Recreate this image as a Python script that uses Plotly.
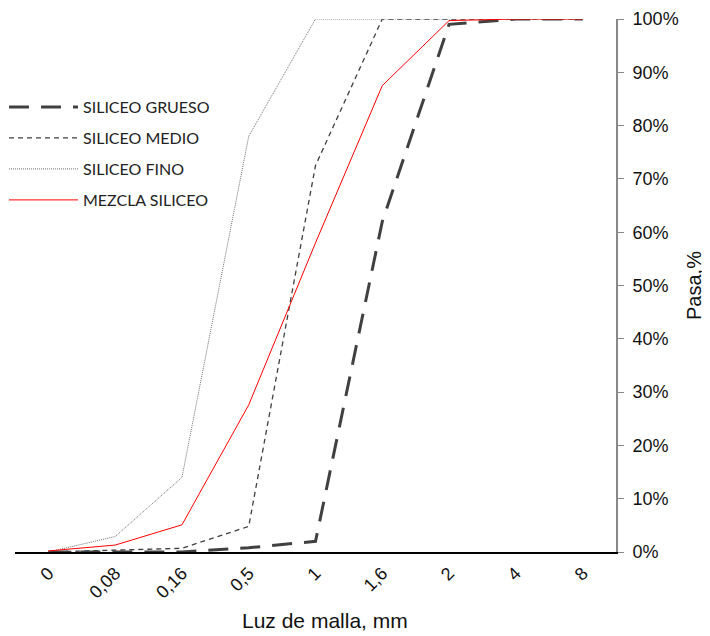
import plotly.graph_objects as go

categories = ["0", "0,08", "0,16", "0,5", "1", "1,6", "2", "4", "8"]
grueso = [0, 0, 0, 0.8, 2.0, 62, 99, 100, 100]
medio = [0, 0.4, 0.7, 4.8, 72.5, 100, 100, 100, 100]
fino = [0, 2.9, 14, 78, 100, 100, 100, 100, 100]
mezcla = [0.2, 1.3, 5.1, 27.6, 58, 87.5, 99.7, 100, 100]
names = ["SILICEO GRUESO", "SILICEO MEDIO", "SILICEO FINO", "MEZCLA SILICEO"]
y_ticks = [0, 10, 20, 30, 40, 50, 60, 70, 80, 90, 100]

series = [grueso, medio, fino, mezcla]
styles = [
    dict(color="#404040", width=3, dash="20px,12px"),
    dict(color="#404040", width=1.3, dash="5px,4px"),
    dict(color="#606060", width=0.9, dash="1px,1px"),
    dict(color="#FF0000", width=1),
]
legend_ids = ["legend", "legend2", "legend3", "legend4"]

fig = go.Figure()
for name, vals, st, lg in zip(names, series, styles, legend_ids):
    fig.add_trace(go.Scatter(x=categories, y=vals, mode="lines", name=name,
                             line=st, legend=lg))

# page body has an 8px margin; figure is 702x628 so it fills the 710x636 window
PL, PT, PR, PB = 15, 19, 616, 552  # plot area in screen pixels
legend_tops = [90, 121, 152, 183]
layout_legends = {}
for lg, top in zip(legend_ids, legend_tops):
    layout_legends[lg] = dict(
        xref="paper", yref="paper",
        x=(4 - PL) / (PR - PL), y=(PB - top) / (PB - PT),
        xanchor="left", yanchor="top",
        bgcolor="rgba(0,0,0,0)",
        font=dict(family="Lato, Open Sans, sans-serif", size=16, color="#222"),
        itemwidth=69,
    )

tick_font = dict(family="Liberation Sans, Arial, sans-serif", size=18, color="#111")
xtitle_font = dict(family="Liberation Sans, Arial, sans-serif", size=21, color="#111")
ytitle_font = dict(family="Liberation Sans, Arial, sans-serif", size=20, color="#111")

fig.update_layout(
    width=702, height=628,
    margin=dict(l=PL - 8, r=710 - PR, t=PT - 8, b=636 - PB, autoexpand=False),
    paper_bgcolor="white", plot_bgcolor="white",
    showlegend=True,
    **layout_legends,
    xaxis=dict(
        type="category", categoryorder="array", categoryarray=categories,
        range=[-0.5, 8.5], tickangle=-45, automargin=False,
        showline=True, linecolor="black", linewidth=1.5,
        showgrid=False, ticks="", ticklabelstandoff=2,
        tickfont=tick_font,
    ),
    yaxis=dict(
        side="right", range=[0, 100], tickvals=y_ticks, automargin=False,
        ticktext=[f"{v}%" for v in y_ticks],
        showline=True, linecolor="#888888", linewidth=2,
        ticks="outside", ticklen=6, tickcolor="#888888", tickwidth=1,
        ticklabelstandoff=5,
        showgrid=False, zeroline=False,
        tickfont=tick_font,
        title=dict(text="Pasa,%", font=ytitle_font, standoff=9),
    ),
    annotations=[dict(
        text="Luz de malla, mm", xref="paper", yref="paper",
        x=(325 - PL) / (PR - PL), y=(PB - 634) / (PB - PT),
        xanchor="center", yanchor="bottom", showarrow=False,
        font=xtitle_font,
    )],
)

fig.write_html("out.html")
